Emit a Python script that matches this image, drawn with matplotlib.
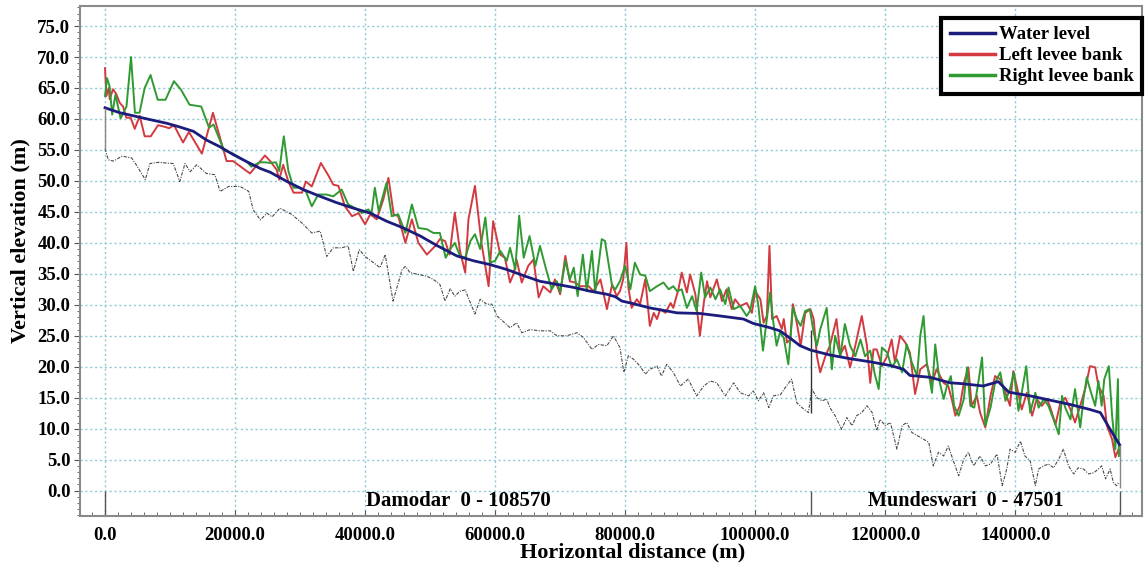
#!/usr/bin/env python3
"""Longitudinal profile of the Damodar - Mundeswari reach: water level, levee banks and bed."""

import matplotlib
matplotlib.use("Agg")
import matplotlib.pyplot as plt
import matplotlib.ticker as ticker
from matplotlib.lines import Line2D

# reach lengths (m)
DAMODAR_LEN = 108570
MUNDESWARI_LEN = 47501
TOTAL_LEN = DAMODAR_LEN + MUNDESWARI_LEN

# water level (m)
wl_x = [0, 2300, 4400, 6900, 9500, 11500, 13600, 15600, 17700, 19800, 21800, 23900, 25400,
        28000, 30500, 33100, 35600, 38200, 40800, 43300, 45900, 48500, 51000, 54100, 56700,
        59200, 61800, 64400, 66900, 69500, 72100, 74600, 77200, 78500, 79500, 80800, 83800,
        88000, 91500, 94600, 98200, 99700, 102300, 103800, 105400, 106900, 108500, 111500,
        114600, 117700, 120800, 122800, 123800, 126900, 130000, 131500, 135100, 137400,
        139000, 142300, 145400, 148500, 151500, 153100, 154600, 155700, 156071]
wl_y = [61.8, 61.0, 60.5, 59.9, 59.3, 58.7, 58.0, 56.6, 55.5, 54.2, 53.1, 52.0, 51.4,
        49.9, 48.6, 47.5, 46.5, 45.6, 44.8, 43.5, 42.4, 41.1, 39.6, 37.9, 37.1,
        36.5, 35.7, 34.7, 33.8, 33.3, 32.8, 32.2, 31.7, 31.3, 30.6, 30.3, 29.5,
        28.7, 28.6, 28.2, 27.7, 27.0, 26.3, 25.8, 24.6, 23.4, 22.7, 21.9,
        21.3, 20.8, 20.2, 19.6, 18.6, 18.3, 17.4, 17.3, 16.9, 17.6,
        15.9, 15.3, 14.6, 13.9, 13.1, 12.6, 9.9, 8.0, 7.4]

# left levee bank (m)
left_x = [0, 200, 560, 720, 1230, 1740, 2260, 2770, 3280, 3950, 4570, 5340, 6100, 7030, 8160,
          9290, 9850, 10600, 12000, 12900, 14900, 16600, 18700, 19700, 22300, 24600, 25400,
          26400, 26800, 27400, 28200, 29000, 30300, 30900, 31800, 33200, 34400, 35100, 35900,
          36900, 38000, 39000, 40000, 40800, 41800, 42800, 43600, 44400, 45100, 46200, 47200,
          48200, 49500, 50800, 51500, 52300, 53000, 53800, 54600, 55400, 55900, 56900, 57900,
          59000, 59700, 60800, 61500, 62300, 62800, 63300, 64100, 65100, 65900, 66700, 67400,
          68500, 69200, 70000, 70800, 71500, 72300, 73100, 74400, 75100, 76200, 77200, 78000,
          78700, 79200, 79700, 80200, 80500, 81000, 81800, 82300, 83100, 83800, 84400, 84900,
          85400, 86200, 87000, 87400, 88200, 88700, 89500, 90000, 90800, 91500, 92100, 92600,
          93100, 94100, 94900, 95600, 96400, 96900, 97700, 98700, 99500, 100000, 100800,
          101300, 101800, 102200, 102600, 103300, 104100, 104400, 104900, 105400, 105800,
          106400, 107000, 107700, 108500, 109000, 109500, 110000, 110800, 111500, 112500,
          113100, 113800, 114600, 115400, 116400, 117200, 117700, 118200, 118700, 119500,
          120300, 121000, 121500, 122300, 123100, 123800, 124600, 125400, 126400, 127200,
          127900, 129000, 129700, 130300, 130800, 131500, 132100, 132800, 133300, 134100,
          134600, 135400, 136200, 136900, 137700, 138500, 139200, 139700, 140300, 141000,
          141800, 142600, 143300, 144100, 144900, 145400, 146200, 146900, 147700, 148500,
          149200, 150000, 150800, 151500, 152300, 152800, 153600, 154100, 154900, 155400,
          155900, 156071]
left_y = [68.2, 63.7, 65.0, 63.2, 64.8, 64.0, 62.6, 62.0, 60.2, 60.2, 58.4, 60.5, 57.2, 57.2, 59.0,
          58.7, 58.5, 59.0, 56.2, 57.9, 54.4, 61.0, 53.2, 53.2, 51.2, 54.1, 53.2,
          51.8, 50.2, 52.6, 49.9, 48.1, 48.1, 49.9, 49.1, 52.9, 50.8, 49.4, 49.2,
          45.9, 44.3, 44.8, 43.0, 44.6, 43.8, 47.0, 50.5, 44.6, 44.3, 40.0, 43.8,
          40.0, 38.1, 39.5, 40.6, 40.3, 38.1, 44.9, 38.7, 35.2, 43.8, 49.2, 40.0,
          33.0, 43.5, 38.1, 37.6, 33.6, 34.9, 37.3, 33.6, 36.3, 37.3, 31.2, 33.0,
          32.0, 34.1, 31.7, 37.9, 33.8, 33.6, 33.0, 33.0, 32.2, 34.1, 29.3, 33.3,
          31.4, 32.2, 34.1, 40.0, 32.8, 29.5, 30.9, 30.1, 34.1, 26.6, 28.7, 27.7,
          29.3, 28.7, 30.3, 29.5, 32.5, 35.2, 32.0, 34.9, 31.7, 25.0, 30.3, 33.8,
          31.2, 34.1, 30.6, 32.5, 29.3, 30.9, 29.8, 30.3, 28.7, 32.2, 30.9,
          27.1, 28.2, 39.5, 27.7, 28.2, 26.1, 27.7, 23.9, 24.4, 30.1,
          27.1, 23.4, 28.7, 29.3, 27.7, 21.7, 19.1, 21.7, 23.4, 27.7,
          22.0, 23.4, 19.9, 23.4, 28.2, 23.4, 17.4, 22.8, 22.8, 20.1,
          21.7, 24.4, 20.7, 25.0, 23.9, 22.3, 15.6, 19.6, 20.4, 17.4,
          19.6, 17.4, 16.9, 14.5, 12.1, 13.7, 17.4, 19.9, 13.7, 15.3,
          12.6, 10.2, 15.3, 18.5, 18.0, 15.8, 13.7, 19.3, 16.6, 13.1,
          15.8, 12.1, 14.8, 13.7, 14.8, 13.4, 10.7, 14.0, 15.0, 13.1,
          11.0, 13.7, 16.6, 20.1, 19.9, 16.9, 15.3, 10.5, 8.3, 5.4,
          6.7, 6.0]

# right levee bank (m)
right_x = [0, 300, 700, 1100, 1600, 2400, 3300, 4000, 4600, 5300, 6100, 7000, 8100, 9300,
           10600, 11700, 13000, 14800, 16000, 16700, 18300, 19700, 21800, 22500, 23800, 24600,
           25400, 26300, 26800, 27500, 28200, 29000, 30000, 30900, 31800, 32800, 34100, 35100,
           36400, 37400, 38500, 39500, 40500, 41000, 41500, 42100, 43300, 44100, 45100, 46200,
           47200, 48200, 49500, 50500, 51500, 52400, 53100, 53800, 54600, 55400, 56200, 56900,
           57700, 58500, 59200, 60000, 60800, 61800, 62300, 63100, 63700, 64400, 65300, 66200,
           66900, 67700, 68700, 69500, 70000, 70800, 71500, 72100, 72700, 73500, 74100, 74900,
           75400, 76400, 76900, 78000, 78500, 79200, 80000, 80800, 81500, 82300, 83100, 83800,
           84900, 85900, 86700, 87400, 88000, 88700, 89500, 90300, 91000, 91700, 92300, 93100,
           93900, 94600, 95400, 95900, 96700, 97700, 98700, 99200, 100000, 100500, 101200,
           101800, 102300, 102800, 103300, 103800, 104400, 105100, 105800, 106400, 107000,
           107700, 108400, 109000, 109500, 110000, 111000, 111800, 112300, 113100, 113800,
           114600, 115400, 116200, 116900, 117700, 118400, 119000, 119500, 120300, 121000,
           121800, 122600, 123300, 124100, 124900, 125400, 125900, 126400, 127200, 127700,
           128400, 129000, 129500, 130100, 130600, 131300, 132100, 132600, 133100, 133700,
           134400, 134900, 135400, 136200, 136900, 137700, 138500, 139200, 139800, 140500,
           141000, 141700, 142300, 143100, 143600, 144400, 145100, 145900, 146700, 147200,
           147700, 148500, 149200, 150000, 150500, 151000, 151500, 152300, 152800, 153300,
           153700, 154400, 154900, 155400, 155800, 155950]
right_y = [63.7, 66.6, 65.3, 60.7, 63.9, 60.1, 62.0, 70.0, 61.0, 61.0, 65.0, 67.1, 63.1, 63.1,
           66.1, 64.7, 62.3, 62.0, 58.6, 59.1, 54.9, 54.4, 53.1, 52.3, 53.0, 53.0,
           52.9, 53.0, 51.6, 57.2, 51.6, 48.9, 48.9, 48.3, 45.9, 47.8, 47.8, 47.5,
           48.6, 46.2, 45.6, 44.8, 45.4, 44.8, 48.9, 45.1, 49.7, 44.3, 44.6, 41.6,
           46.2, 42.4, 42.2, 41.6, 41.6, 37.6, 39.0, 40.0, 37.9, 37.6, 40.3, 41.4,
           39.0, 44.1, 36.8, 37.1, 38.7, 37.1, 39.2, 35.7, 44.4, 37.6, 41.1, 36.3,
           39.5, 36.3, 32.5, 33.8, 32.0, 37.1, 34.1, 36.0, 31.4, 38.1, 32.2, 38.7,
           32.0, 40.6, 40.3, 33.0, 32.5, 33.8, 36.3, 32.5, 36.8, 34.9, 34.7, 32.2,
           33.0, 33.6, 32.5, 33.0, 32.2, 32.5, 29.5, 31.4, 29.0, 35.2, 31.2, 32.8,
           30.9, 32.5, 30.1, 32.8, 29.3, 29.8, 28.2, 29.0, 33.0, 29.8, 22.6,
           27.7, 32.0, 27.1, 23.4, 25.5, 24.7, 20.4, 29.5, 27.7, 26.6,
           29.0, 29.3, 25.5, 23.4, 26.0, 29.5, 19.6, 25.0, 21.7, 26.9,
           23.4, 21.7, 24.4, 21.7, 22.6, 18.8, 16.4, 23.1, 22.3, 19.9,
           21.2, 19.1, 23.6, 20.7, 18.5, 25.0, 28.2, 20.7, 15.8, 23.6,
           17.4, 14.8, 16.9, 18.5, 13.7, 12.1, 14.8, 19.9, 13.7, 13.4,
           18.0, 21.5, 10.5, 13.4, 17.4, 19.1, 14.5, 16.4, 19.1, 12.9,
           15.8, 20.1, 12.6, 15.8, 13.4, 14.8, 13.7, 11.5, 9.1, 15.3,
           13.4, 11.5, 16.4, 10.2, 14.8, 18.3, 16.4, 13.7, 17.7, 13.7,
           18.0, 20.1, 12.1, 6.7, 18.0, 5.6]

# river bed (m)
bed_x = [0, 500, 1300, 2600, 4100, 4800, 6200, 6900, 8200, 10500, 11500, 12300, 13100, 14100,
         15600, 16900, 17700, 19000, 20800, 22100, 22800, 23900, 24900, 25700, 26900, 28700,
         30300, 31800, 33100, 34100, 35100, 36400, 37400, 38200, 39100, 40000, 41300, 42300,
         43100, 44300, 45700, 46200, 46900, 48200, 49500, 50500, 51500, 52300, 53100, 53800,
         54600, 55400, 56900, 57700, 58700, 59500, 60300, 62300, 63300, 64100, 65400, 66900,
         68500, 69500, 71000, 72600, 73600, 74900, 75900, 77200, 78200, 79200, 79800, 80500,
         81300, 82300, 83100, 83800, 84900, 85600, 86400, 87400, 88500, 89700, 91000, 92100,
         93100, 94100, 95400, 96700, 97700, 99000, 99700, 100500, 101300, 102100, 102800,
         103900, 104600, 105600, 106400, 107200, 108200, 108700, 109500, 110300, 111000,
         111500, 112300, 113300, 114100, 114900, 115600, 116400, 117200, 118000, 118700,
         119200, 120000, 120800, 121800, 122600, 123300, 124100, 125100, 125900, 126700,
         127400, 128200, 129000, 129700, 130500, 131300, 132100, 132800, 133600, 134600,
         135400, 136200, 137200, 138000, 138700, 139200, 140000, 140800, 141500, 142300,
         143100, 143600, 144400, 145100, 145900, 146700, 147400, 148200, 149000, 149700,
         150500, 151300, 152100, 152800, 153300, 153900, 154600, 155100, 155600, 155950]
bed_y = [55.2, 53.4, 53.2, 54.0, 53.7, 52.6, 50.2, 52.8, 53.0, 52.8, 49.9, 52.8, 51.5, 52.6,
         51.2, 51.0, 48.3, 49.1, 49.1, 48.3, 45.3, 43.7, 44.8, 44.2, 45.6, 44.6,
         43.2, 41.6, 41.9, 37.8, 39.2, 39.2, 39.5, 35.4, 38.9, 37.8, 36.8, 36.0,
         38.1, 30.6, 35.7, 36.2, 35.2, 34.9, 34.6, 34.1, 33.3, 30.6, 32.6, 31.4,
         32.2, 32.4, 28.5, 30.9, 30.1, 30.1, 28.2, 26.3, 27.1, 25.5, 26.0, 25.8,
         25.8, 25.0, 25.0, 25.5, 24.7, 22.8, 23.6, 23.4, 25.0, 23.1, 19.1, 21.8,
         21.2, 20.1, 18.8, 19.6, 20.1, 18.5, 20.4, 19.1, 16.9, 18.0, 15.3, 16.9,
         17.7, 17.4, 15.3, 17.4, 15.8, 15.3, 16.1, 14.5, 15.8, 13.4, 15.3,
         15.5, 16.6, 18.0, 14.2, 13.4, 12.6, 16.4, 15.0, 14.5, 14.8,
         13.4, 12.1, 9.9, 11.8, 10.5, 12.1, 12.6, 13.7, 12.6, 9.7,
         11.5, 10.5, 11.0, 6.7, 10.5, 11.0, 9.4, 8.8, 8.3, 7.8,
         4.0, 6.2, 5.6, 7.2, 4.8, 2.4, 5.1, 6.2, 4.0, 5.6,
         4.0, 4.3, 5.9, 0.8, 3.5, 6.7, 6.2, 8.0, 5.6, 4.8,
         0.8, 3.5, 4.0, 4.3, 3.7, 5.1, 6.7, 4.0, 2.7, 3.7,
         3.5, 2.7, 2.9, 3.5, 4.0, 1.9, 3.5, 1.3, 0.8, 1.3]

SERIES_LABELS = ["Water level", "Left levee bank", "Right levee bank"]
REACH_LABELS = ["Damodar  0 - 108570", "Mundeswari  0 - 47501"]
X_TICKS = [0, 20000, 40000, 60000, 80000, 100000, 120000, 140000]
Y_TICKS = [0, 5, 10, 15, 20, 25, 30, 35, 40, 45, 50, 55, 60, 65, 70, 75]

BLUE = "#1c1c7c"
RED = "#d33a40"
GREEN = "#2f9a32"
GRID = "#8ec9d6"

plt.rcParams["font.family"] = ["Liberation Serif", "DejaVu Serif"]
plt.rcParams["font.weight"] = "bold"


def plot_profile(save_path):
    fig = plt.figure(figsize=(11.46, 5.64), dpi=100)
    ax = fig.add_axes([0.0698, 0.085, 0.9267, 0.904])

    ymin, ymax = -4.1, 78.2
    ax.set_xlim(-3850, 159500)
    ax.set_ylim(ymin, ymax)

    # --- bed, banks, water level ---
    ax.plot(bed_x, bed_y, color="#4a4a4a", linewidth=0.8, linestyle=(0, (3, 1.2, 1, 1.2)))
    ax.plot(left_x, left_y, color=RED, linewidth=1.4)
    ax.plot(right_x, right_y, color=GREEN, linewidth=1.4)
    ax.plot(wl_x, wl_y, color=BLUE, linewidth=2.0)

    # --- reach boundaries ---
    ax.vlines([0, DAMODAR_LEN, TOTAL_LEN], ymin, 0, color="#555555", linewidth=1.0)
    ax.vlines(0, bed_y[0], wl_y[0], color="#888888", linewidth=1.0)
    ax.vlines(DAMODAR_LEN, 12.6, 26.0, color="#333333", linewidth=1.0)
    ax.vlines(TOTAL_LEN, 0.5, wl_y[-1], color="#888888", linewidth=1.0)

    ax.text(DAMODAR_LEN / 2, -1.7, REACH_LABELS[0], ha="center", va="center",
            fontsize=15, fontweight="bold")
    ax.text(DAMODAR_LEN + MUNDESWARI_LEN / 2, -1.7, REACH_LABELS[1], ha="center",
            va="center", fontsize=14.5, fontweight="bold")

    # --- axes ---
    ax.set_xticks(X_TICKS)
    ax.set_yticks(Y_TICKS)
    ax.xaxis.set_minor_locator(ticker.MultipleLocator(2000))
    ax.yaxis.set_minor_locator(ticker.MultipleLocator(1))
    ax.xaxis.set_major_formatter(ticker.FormatStrFormatter("%.1f"))
    ax.yaxis.set_major_formatter(ticker.FormatStrFormatter("%.1f"))
    ax.tick_params(axis="x", which="both", direction="in", labelsize=13.5, pad=8,
                   color="#555555")
    ax.tick_params(axis="x", which="major", length=4)
    ax.tick_params(axis="x", which="minor", length=3)
    ax.tick_params(axis="y", which="both", direction="out", labelsize=13.5, pad=3,
                   color="#555555")
    ax.tick_params(axis="y", which="major", length=4)
    ax.tick_params(axis="y", which="minor", length=2.5)
    for lab in ax.get_xticklabels() + ax.get_yticklabels():
        lab.set_fontweight("bold")

    ax.grid(True, which="major", color=GRID, linestyle=(0, (1.5, 2)), linewidth=1.0)
    for sp in ax.spines.values():
        sp.set_color("#8a8a8a")
        sp.set_linewidth(1.5)

    ax.set_xlabel("Horizontal distance (m)", fontsize=16, fontweight="bold")
    ax.xaxis.set_label_coords(0.52, -0.052)
    ax.set_ylabel("Vertical elevation (m)", fontsize=16, fontweight="bold")
    ax.yaxis.set_label_coords(-0.047, 0.54)

    # --- legend ---
    handles = [Line2D([], [], color=c, linewidth=2.5) for c in (BLUE, RED, GREEN)]
    leg = ax.legend(handles, SERIES_LABELS, loc="upper right", bbox_to_anchor=(1.0, 0.977),
                    borderaxespad=0, fancybox=False, framealpha=1, edgecolor="black",
                    handlelength=2.4, handletextpad=0.2, borderpad=0.45, labelspacing=0.2,
                    prop={"size": 13.5, "weight": "bold"})
    leg.get_frame().set_linewidth(3)

    fig.savefig(save_path, dpi=100)
    print(f"Saved to {save_path}")


def main():
    plot_profile("out.png")


if __name__ == "__main__":
    main()
